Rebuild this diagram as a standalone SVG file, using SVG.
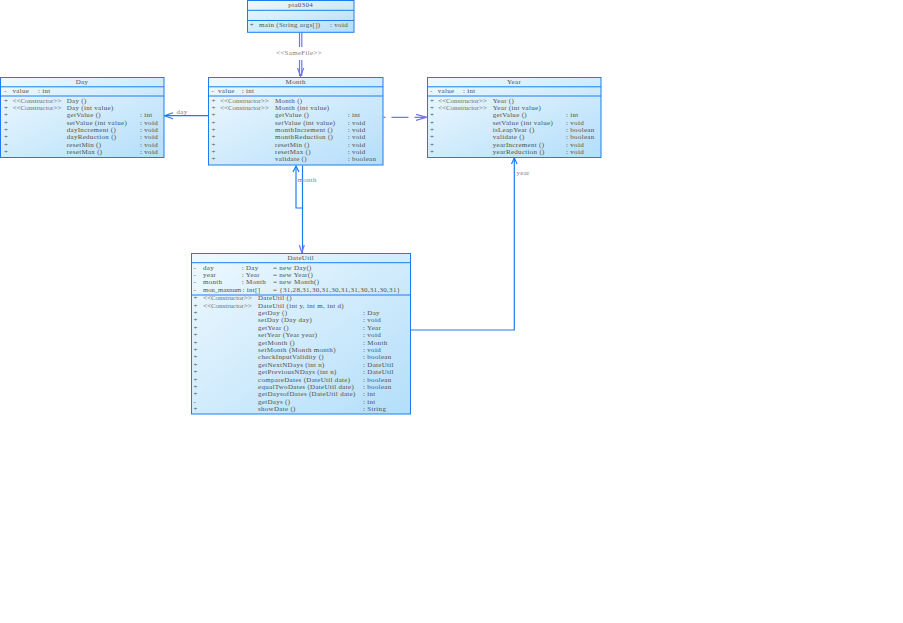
<svg xmlns="http://www.w3.org/2000/svg" width="903" height="623" viewBox="0 0 903 623">
<defs>
<linearGradient id="bg" x1="0" y1="0" x2="1" y2="1">
<stop offset="0" stop-color="#eff9fe"/>
<stop offset="1" stop-color="#b3defa"/>
</linearGradient>
<style>
.box{fill:url(#bg);stroke:#1a7ef2;stroke-width:1}
.sep{stroke:#1a7ef2;stroke-width:1}
text{font-family:"Liberation Serif",serif;font-size:7px;fill:#505050;dominant-baseline:central;letter-spacing:0.3px}
.t{text-anchor:middle}
.c{fill:#707070;letter-spacing:0}
.n{letter-spacing:0;font-size:6.6px}
.lbl{fill:#8a7a8a}
.assoc{fill:none;stroke:#1a7ef2;stroke-width:1.2}
.dep{fill:none;stroke:#7474f0;stroke-width:1.2}
</style>
</defs>
<rect width="903" height="623" fill="#ffffff"/>

<g id="connectors">
<path class="dep" d="M299.5,33 V47 M301.8,33 V47 M299.5,60 V76 M301.8,60 V76"/>
<path class="dep" d="M297.5,68 L300.6,76 L303.7,68"/>
<text class="lbl" x="299" y="52.5" text-anchor="middle">&lt;&lt;SameFile&gt;&gt;</text>
<path class="assoc" d="M208,115.7 H164.5"/>
<path class="assoc" d="M173,112.7 L164.5,115.7 L173,118.7"/>
<text class="lbl" x="176.5" y="111.5">day</text>
<path class="dep" d="M383.5,117.3 H427" stroke-dasharray="2,6,17,6,12"/>
<path class="dep" d="M416,114.3 L426.5,117.3 L416,120.3"/>
<path class="assoc" d="M296,166 V208 H302.5 V253"/>
<path class="assoc" d="M302.5,165.5 V208"/>
<path class="assoc" d="M293,172 L296,166 L299,172"/>
<path class="dep" d="M299.3,245 L301.8,252.5 L304.3,245"/>
<text class="lbl" x="297.5" y="180">month</text>
<path class="assoc" d="M410.5,330 H514.3 V158"/>
<path class="assoc" d="M511.5,164 L514.3,158 L517.1,164"/>
<text class="lbl" x="516.5" y="173">year</text>
</g>

<g id="pta0304">
<rect class="box" x="247.5" y="0.5" width="106.5" height="31.8"/>
<line class="sep" x1="247.5" y1="10.3" x2="354" y2="10.3"/>
<line class="sep" x1="247.5" y1="20.5" x2="354" y2="20.5"/>
<text class="t" x="300.7" y="5.2">pta0304</text>
<text x="249.8" y="24.5">+</text>
<text x="259" y="24.5">main (String args[])</text>
<text x="330" y="24.5">: void</text>
</g>

<g id="Day">
<rect class="box" x="0.5" y="77.5" width="163.5" height="80"/>
<line class="sep" x1="0.5" y1="86.8" x2="164" y2="86.8"/>
<line class="sep" x1="0.5" y1="96" x2="164" y2="96"/>
<text class="t" x="82" y="81.8">Day</text>
<text x="4" y="91.2">-</text><text x="12.5" y="91.2">value</text><text x="38" y="91.2">: int</text>
<text x="4" y="100.7">+</text><text class="c" x="12.5" y="100.7">&lt;&lt;Constructor&gt;&gt;</text><text x="66.7" y="100.7">Day ()</text>
<text x="4" y="108">+</text><text class="c" x="12.5" y="108">&lt;&lt;Constructor&gt;&gt;</text><text x="66.7" y="108">Day (int value)</text>
<text x="4" y="115.3">+</text><text x="66.7" y="115.3">getValue ()</text><text x="140" y="115.3">: int</text>
<text x="4" y="122.7">+</text><text x="66.7" y="122.7">setValue (int value)</text><text x="140" y="122.7">: void</text>
<text x="4" y="130">+</text><text x="66.7" y="130">dayIncrement ()</text><text x="140" y="130">: void</text>
<text x="4" y="137.3">+</text><text x="66.7" y="137.3">dayReduction ()</text><text x="140" y="137.3">: void</text>
<text x="4" y="144.7">+</text><text x="66.7" y="144.7">resetMin ()</text><text x="140" y="144.7">: void</text>
<text x="4" y="152">+</text><text x="66.7" y="152">resetMax ()</text><text x="140" y="152">: void</text>
</g>

<g id="Month">
<rect class="box" x="208.5" y="77.5" width="174.5" height="87.5"/>
<line class="sep" x1="208.5" y1="86.8" x2="383" y2="86.8"/>
<line class="sep" x1="208.5" y1="96" x2="383" y2="96"/>
<text class="t" x="295.7" y="81.8">Month</text>
<text x="211.5" y="91.2">-</text><text x="218" y="91.2">value</text><text x="241.7" y="91.2">: int</text>
<text x="211.5" y="100.7">+</text><text class="c" x="220" y="100.7">&lt;&lt;Constructor&gt;&gt;</text><text x="275" y="100.7">Month ()</text>
<text x="211.5" y="108">+</text><text class="c" x="220" y="108">&lt;&lt;Constructor&gt;&gt;</text><text x="275" y="108">Month (int value)</text>
<text x="211.5" y="115.3">+</text><text x="275" y="115.3">getValue ()</text><text x="347.7" y="115.3">: int</text>
<text x="211.5" y="122.7">+</text><text x="275" y="122.7">setValue (int value)</text><text x="347.7" y="122.7">: void</text>
<text x="211.5" y="130">+</text><text x="275" y="130">monthIncrement ()</text><text x="347.7" y="130">: void</text>
<text x="211.5" y="137.3">+</text><text x="275" y="137.3">monthReduction ()</text><text x="347.7" y="137.3">: void</text>
<text x="211.5" y="144.7">+</text><text x="275" y="144.7">resetMin ()</text><text x="347.7" y="144.7">: void</text>
<text x="211.5" y="152">+</text><text x="275" y="152">resetMax ()</text><text x="347.7" y="152">: void</text>
<text x="211.5" y="159.3">+</text><text x="275" y="159.3">validate ()</text><text x="347.7" y="159.3">: boolean</text>
</g>

<g id="Year">
<rect class="box" x="427.5" y="77.5" width="173.5" height="80"/>
<line class="sep" x1="427.5" y1="86.8" x2="601" y2="86.8"/>
<line class="sep" x1="427.5" y1="96" x2="601" y2="96"/>
<text class="t" x="514" y="81.8">Year</text>
<text x="430" y="91.2">-</text><text x="437.7" y="91.2">value</text><text x="463" y="91.2">: int</text>
<text x="430" y="100.7">+</text><text class="c" x="438" y="100.7">&lt;&lt;Constructor&gt;&gt;</text><text x="492.7" y="100.7">Year ()</text>
<text x="430" y="108">+</text><text class="c" x="438" y="108">&lt;&lt;Constructor&gt;&gt;</text><text x="492.7" y="108">Year (int value)</text>
<text x="430" y="115.3">+</text><text x="492.7" y="115.3">getValue ()</text><text x="566" y="115.3">: int</text>
<text x="430" y="122.7">+</text><text x="492.7" y="122.7">setValue (int value)</text><text x="566" y="122.7">: void</text>
<text x="430" y="130">+</text><text x="492.7" y="130">isLeapYear ()</text><text x="566" y="130">: boolean</text>
<text x="430" y="137.3">+</text><text x="492.7" y="137.3">validate ()</text><text x="566" y="137.3">: boolean</text>
<text x="430" y="144.7">+</text><text x="492.7" y="144.7">yearIncrement ()</text><text x="566" y="144.7">: void</text>
<text x="430" y="152">+</text><text x="492.7" y="152">yearReduction ()</text><text x="566" y="152">: void</text>
</g>

<g id="DateUtil">
<rect class="box" x="191.5" y="253.5" width="219" height="160.5"/>
<line class="sep" x1="191.5" y1="262.7" x2="410.5" y2="262.7"/>
<line class="sep" x1="191.5" y1="295" x2="410.5" y2="295"/>
<text class="t" x="300.7" y="257.5">DateUtil</text>
<text x="193.5" y="267.8">-</text><text x="203" y="267.8">day</text><text x="241.7" y="267.8">: Day</text><text x="273" y="267.8">= new Day()</text>
<text x="193.5" y="275">-</text><text x="203" y="275">year</text><text x="241.7" y="275">: Year</text><text x="273" y="275">= new Year()</text>
<text x="193.5" y="282.4">-</text><text x="203" y="282.4">month</text><text x="241.7" y="282.4">: Month</text><text x="273" y="282.4">= new Month()</text>
<text x="193.5" y="289.6">-</text><text class="n" x="203" y="289.6">mon_maxnum</text><text x="242.5" y="289.6">: int[]</text><text x="273" y="289.6">= {31,28,31,30,31,30,31,31,30,31,30,31}</text>
<text x="193.5" y="298.3">+</text><text class="c" x="203" y="298.3">&lt;&lt;Constructor&gt;&gt;</text><text x="258" y="298.3">DateUtil ()</text>
<text x="193.5" y="305.7">+</text><text class="c" x="203" y="305.7">&lt;&lt;Constructor&gt;&gt;</text><text x="258" y="305.7">DateUtil (int y, int m, int d)</text>
<text x="193.5" y="313.1">+</text><text x="258" y="313.1">getDay ()</text><text x="363" y="313.1">: Day</text>
<text x="193.5" y="320.4">+</text><text x="258" y="320.4">setDay (Day day)</text><text x="363" y="320.4">: void</text>
<text x="193.5" y="327.8">+</text><text x="258" y="327.8">getYear ()</text><text x="363" y="327.8">: Year</text>
<text x="193.5" y="335.2">+</text><text x="258" y="335.2">setYear (Year year)</text><text x="363" y="335.2">: void</text>
<text x="193.5" y="342.6">+</text><text x="258" y="342.6">getMonth ()</text><text x="363" y="342.6">: Month</text>
<text x="193.5" y="350">+</text><text x="258" y="350">setMonth (Month month)</text><text x="363" y="350">: void</text>
<text x="193.5" y="357.3">+</text><text x="258" y="357.3">checkInputValidity ()</text><text x="363" y="357.3">: boolean</text>
<text x="193.5" y="364.7">+</text><text x="258" y="364.7">getNextNDays (int n)</text><text x="363" y="364.7">: DateUtil</text>
<text x="193.5" y="372.1">+</text><text x="258" y="372.1">getPreviousNDays (int n)</text><text x="363" y="372.1">: DateUtil</text>
<text x="193.5" y="379.5">+</text><text x="258" y="379.5">compareDates (DateUtil date)</text><text x="363" y="379.5">: boolean</text>
<text x="193.5" y="386.9">+</text><text x="258" y="386.9">equalTwoDates (DateUtil date)</text><text x="363" y="386.9">: boolean</text>
<text x="193.5" y="394.2">+</text><text x="258" y="394.2">getDaysofDates (DateUtil date)</text><text x="363" y="394.2">: int</text>
<text x="193.5" y="401.6">-</text><text x="258" y="401.6">getDays ()</text><text x="363" y="401.6">: int</text>
<text x="193.5" y="409">+</text><text x="258" y="409">showDate ()</text><text x="363" y="409">: String</text>
</g>
</svg>
